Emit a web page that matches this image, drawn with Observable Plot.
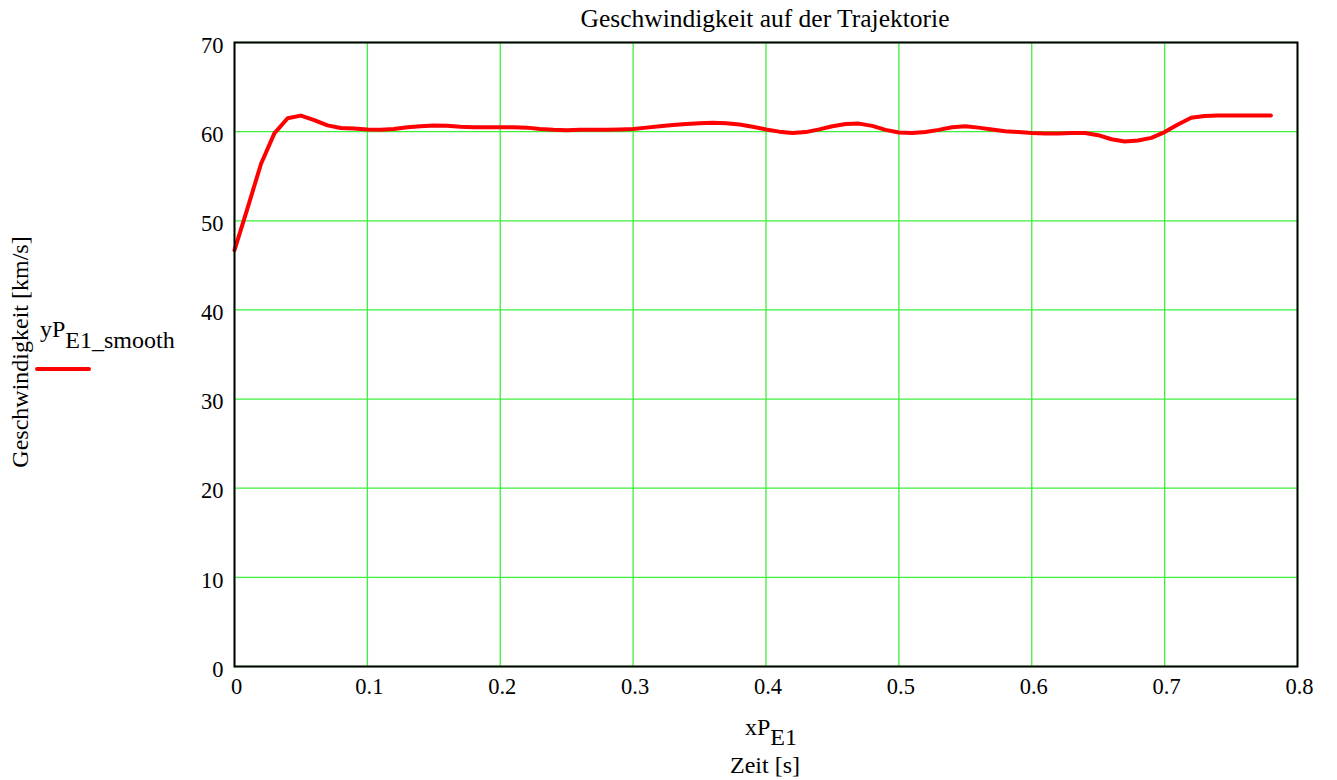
<!DOCTYPE html>
<html>
<head>
<meta charset="utf-8">
<script src="https://cdn.jsdelivr.net/npm/d3@7"></script>
<script src="https://cdn.jsdelivr.net/npm/@observablehq/plot@0.6"></script>
<style>
  html, body { margin: 0; padding: 0; background: #fff; }
  svg { font-family: "Liberation Serif", "Times New Roman", serif; }
</style>
</head>
<body>
<div id="chart"></div>
<script>
const title = "Geschwindigkeit auf der Trajektorie";
const yLabel = "Geschwindigkeit [km/s]";
const xLabelMain = "xP";
const xLabelSub = "E1";
const xLabel2 = "Zeit [s]";
const legendMain = "yP";
const legendSub = "E1_smooth";

const xTicks = [0, 0.1, 0.2, 0.3, 0.4, 0.5, 0.6, 0.7, 0.8];
const yTicks = [0, 10, 20, 30, 40, 50, 60, 70];

const time = [0.00,0.01,0.02,0.03,0.04,0.05,0.06,0.07,0.08,0.09,
  0.10,0.11,0.12,0.13,0.14,0.15,0.16,0.17,0.18,0.19,
  0.20,0.21,0.22,0.23,0.24,0.25,0.26,0.27,0.28,0.29,
  0.30,0.31,0.32,0.33,0.34,0.35,0.36,0.37,0.38,0.39,
  0.40,0.41,0.42,0.43,0.44,0.45,0.46,0.47,0.48,0.49,
  0.50,0.51,0.52,0.53,0.54,0.55,0.56,0.57,0.58,0.59,
  0.60,0.61,0.62,0.63,0.64,0.65,0.66,0.67,0.68,0.69,
  0.70,0.71,0.72,0.73,0.74,0.75,0.76,0.77,0.78];
const speed = [46.7,51.5,56.4,59.8,61.5,61.8,61.3,60.7,60.4,60.35,
  60.25,60.2,60.3,60.5,60.6,60.7,60.65,60.55,60.5,60.5,
  60.5,60.5,60.45,60.3,60.2,60.15,60.2,60.2,60.2,60.25,
  60.3,60.45,60.6,60.75,60.85,60.95,61.0,60.95,60.8,60.55,
  60.25,60.0,59.85,59.95,60.25,60.6,60.85,60.9,60.65,60.2,
  59.9,59.85,59.95,60.2,60.5,60.6,60.45,60.25,60.05,59.95,
  59.85,59.8,59.8,59.85,59.85,59.6,59.15,58.9,59.0,59.3,
  59.95,60.8,61.55,61.75,61.8,61.8,61.8,61.8,61.8];

const data = time.map((t, i) => ({t, v: speed[i]}));

const W = 1337, H = 780;
const mL = 234, mR = 40, mT = 42, mB = 114;
const FONT = "Liberation Serif, Times New Roman, serif";

const chart = Plot.plot({
  width: W,
  height: H,
  marginLeft: mL,
  marginRight: mR,
  marginTop: mT,
  marginBottom: mB,
  style: {fontFamily: FONT, fontSize: "22px", background: "#fff", color: "#000"},
  x: {domain: [0, 0.8], ticks: xTicks},
  y: {domain: [0, 70], ticks: yTicks},
  marks: [
    Plot.gridX(xTicks, {stroke: "#3cf03c", strokeOpacity: 1, strokeWidth: 1.3}),
    Plot.gridY(yTicks, {stroke: "#3cf03c", strokeOpacity: 1, strokeWidth: 1.3}),
    Plot.axisX(xTicks, {tickSize: 0, tickPadding: 12, fontSize: 22.5, label: null, tickFormat: d => String(d), dx: 2}),
    Plot.axisY(yTicks, {tickSize: 0, tickPadding: 11, fontSize: 22.5, label: null, dy: 3}),
    Plot.line(data, {x: "t", y: "v", stroke: "#ff0000", strokeWidth: 4, curve: "linear", strokeLinejoin: "round"}),
    Plot.frame({stroke: "#000", strokeWidth: 2})
  ]
});

const svg = d3.select(chart);

function txt(x, y, size, anchor) {
  return svg.append("text")
    .attr("x", x).attr("y", y)
    .attr("text-anchor", anchor)
    .style("font-size", size + "px")
    .style("font-family", FONT)
    .attr("fill", "#000");
}

txt(765, 27, 25.5, "middle").text(title);

svg.append("text")
  .attr("transform", `translate(28, 352) rotate(-90)`)
  .attr("text-anchor", "middle")
  .style("font-size", "24px")
  .style("font-family", FONT)
  .attr("fill", "#000")
  .text(yLabel);

const xl = txt(771, 735, 24, "middle");
xl.append("tspan").text(xLabelMain);
xl.append("tspan").text(xLabelSub).attr("dy", 10);

txt(765, 773, 24, "middle").text(xLabel2);

const lg = txt(40, 337, 24, "start");
lg.append("tspan").text(legendMain);
lg.append("tspan").text(legendSub).attr("dy", 11);

svg.append("line")
  .attr("x1", 37).attr("x2", 89)
  .attr("y1", 369).attr("y2", 369)
  .attr("stroke", "#ff0000").attr("stroke-width", 4)
  .attr("stroke-linecap", "round");

document.getElementById("chart").appendChild(chart);
</script>
</body>
</html>
